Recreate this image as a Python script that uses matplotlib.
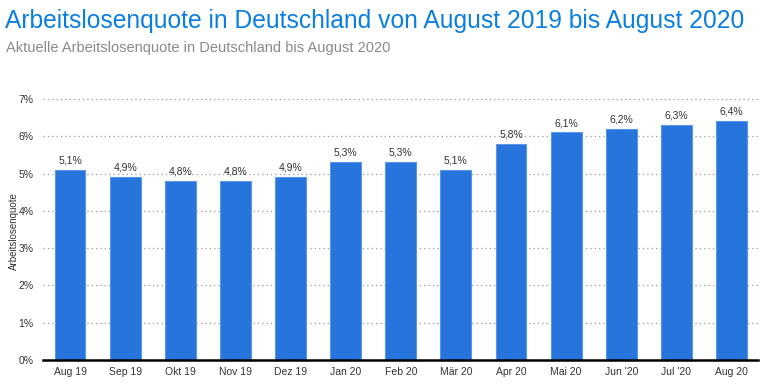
import matplotlib.pyplot as plt
import numpy as np

plt.rcParams['font.family'] = ['Liberation Sans', 'DejaVu Sans']

months = ["Aug 19", "Sep 19", "Okt 19", "Nov 19", "Dez 19", "Jan 20", "Feb 20",
          "Mär 20", "Apr 20", "Mai 20", "Jun '20", "Jul '20", "Aug 20"]
quote = [5.1, 4.9, 4.8, 4.8, 4.9, 5.3, 5.3, 5.1, 5.8, 6.1, 6.2, 6.3, 6.4]
y_ticks = [0, 1, 2, 3, 4, 5, 6, 7]

fig = plt.figure(figsize=(7.68, 3.87), dpi=100)
ax = fig.add_axes([0.056, 0.0698, 0.931, 0.6746])

x = np.arange(len(months))
ax.bar(x, quote, width=0.56, color='#2774dc', edgecolor='#5a97e8', linewidth=0.8, zorder=3)

# value labels above each bar, German decimal comma
for xi, v in zip(x, quote):
    ax.text(xi, v + 0.12, f"{v:.1f}%".replace('.', ','), ha='center', va='bottom',
            fontsize=7.5, color='#333333')

ax.set_xlim(-0.49, 12.48)
ax.set_ylim(0, 7)
ax.set_yticks(y_ticks)
ax.set_yticklabels([f"{t}%" for t in y_ticks])
ax.set_xticks(x)
ax.set_xticklabels(months)
ax.tick_params(axis='both', length=0, labelsize=7.5, colors='#333333')
ax.tick_params(axis='y', pad=7)
ax.tick_params(axis='x', pad=5)

ax.grid(axis='y', linestyle=(0, (1, 2.5)), color='#999999', linewidth=0.9, zorder=0)
for s in ['top', 'right', 'left']:
    ax.spines[s].set_visible(False)
ax.spines['bottom'].set_linewidth(1.8)
ax.spines['bottom'].set_color('black')
ax.spines['bottom'].set_zorder(4)

ax.set_ylabel("Arbeitslosenquote", fontsize=7, color='#333333')
ax.yaxis.set_label_coords(-0.034, 0.495)

fig.text(0.006, 0.945, "Arbeitslosenquote in Deutschland von August 2019 bis August 2020",
         fontsize=17.7, color='#0a7fe0', va='center', ha='left')
fig.text(0.008, 0.877, "Aktuelle Arbeitslosenquote in Deutschland bis August 2020",
         fontsize=10.5, color='#8a8a8a', va='center', ha='left')

fig.savefig("out.png", dpi=100)
